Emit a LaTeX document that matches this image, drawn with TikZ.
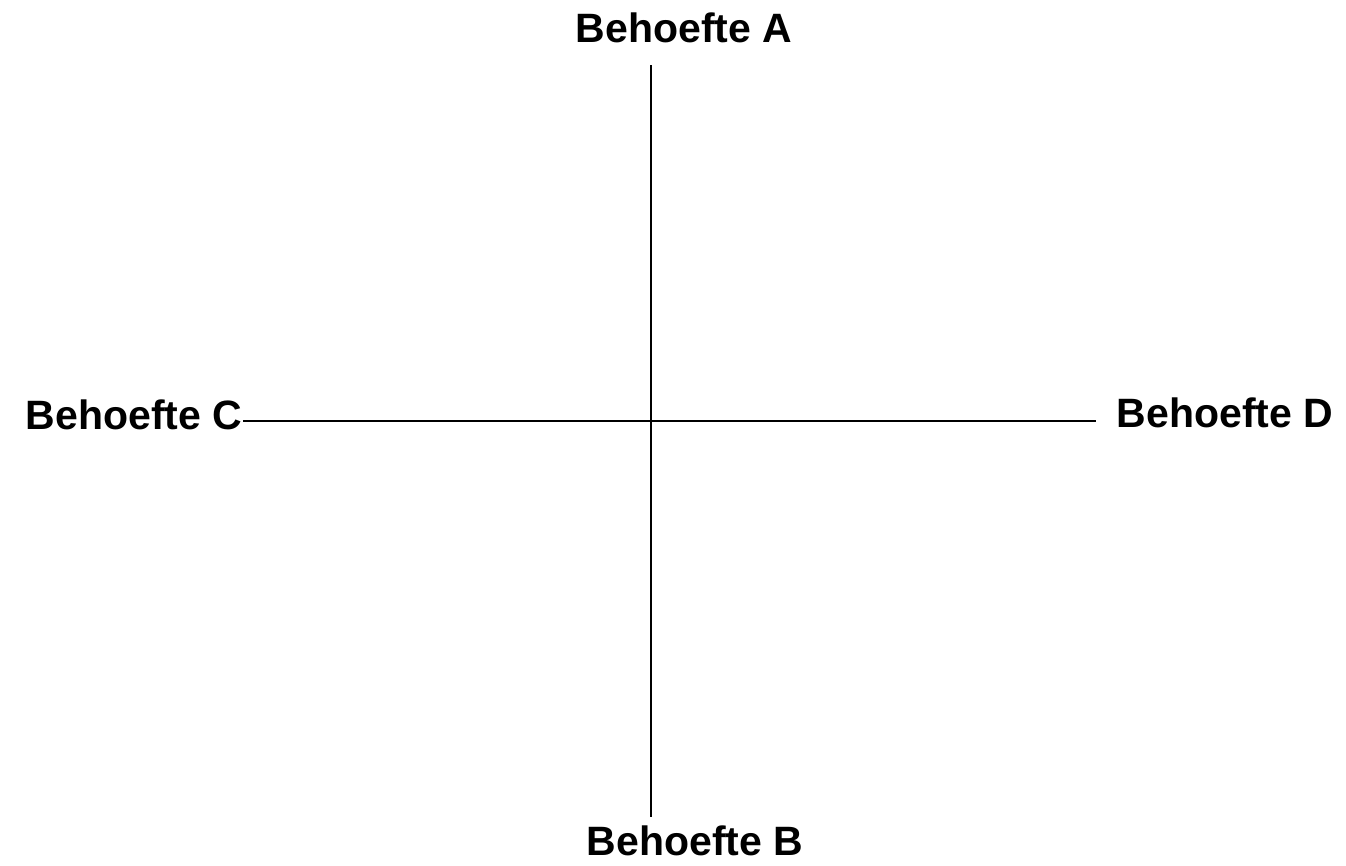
\documentclass[tikz,border=0pt]{standalone}
\usepackage{fontspec}
\setmainfont{Liberation Sans}
\begin{document}
\begin{tikzpicture}[x=1pt,y=-1pt,
  lbl/.style={font=\fontsize{41}{48}\selectfont\bfseries, inner sep=0pt, anchor=base},
  axis/.style={draw=black, line width=1.6pt}]
\useasboundingbox[fill=white] (0,0) rectangle (1346,865);
\node[lbl] (A) at (684,42) {Behoefte A};
\node[lbl] (B) at (695,855) {Behoefte B};
\node[lbl] (C) at (134,429) {Behoefte C};
\node[lbl] (D) at (1225,427) {Behoefte D};
\coordinate (top) at (651,65);
\coordinate (bot) at (651,817);
\coordinate (lft) at (243,421);
\coordinate (rgt) at (1096,421);
\draw[axis] (top) -- (bot);
\draw[axis] (lft) -- (rgt);
\end{tikzpicture}
\end{document}
